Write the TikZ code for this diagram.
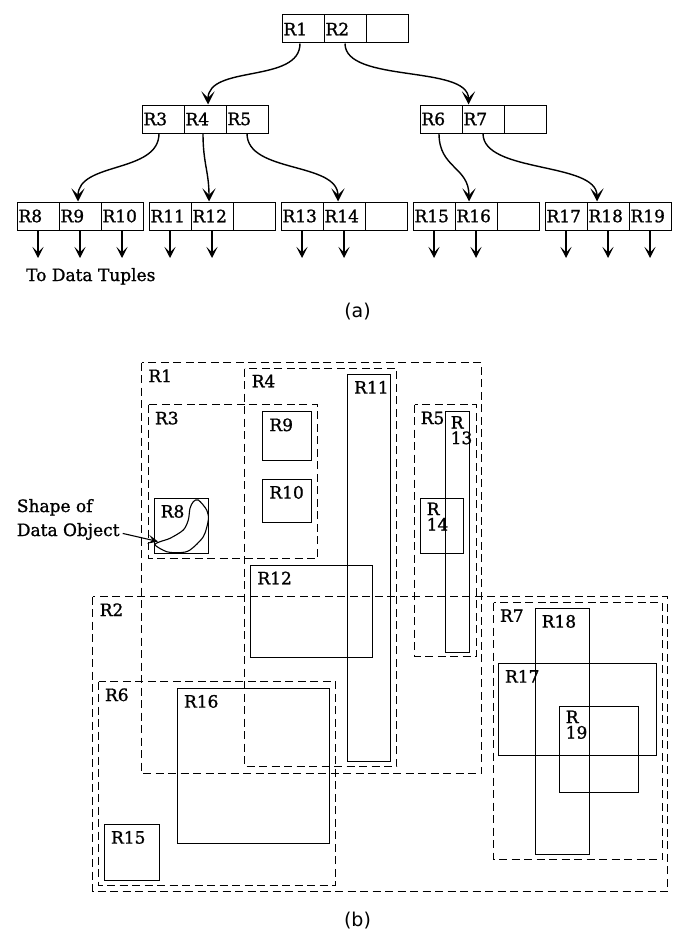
\documentclass[tikz,border=0pt]{standalone}
\usepackage{fontspec}
\setmainfont{DejaVu Serif}[FakeBold=1.2]
\newfontfamily\capfont{DejaVu Sans}
\usetikzlibrary{arrows.meta}

\begin{document}
\begin{tikzpicture}[x=1pt,y=-1pt,font=\fontsize{17}{14}\selectfont,
    cell/.style={draw,line width=1pt,anchor=north west,minimum width=42pt,minimum height=28pt,inner sep=0pt,text width=39pt,align=left},
    link/.style={line width=1.4pt,-{Stealth[length=13pt,width=13pt,inset=6.5pt]}},
    down/.style={line width=1.2pt,-{Stealth[length=11pt,width=11pt,inset=5.5pt]}},
    dregion/.style={line width=1.4pt,dash pattern=on 8pt off 4.5pt},
    leaf/.style={line width=1.1pt},
    lbl/.style={anchor=north west,inner sep=0pt,align=left},
    caption/.style={font=\capfont\fontsize{19}{22}\selectfont}]

        \useasboundingbox (0,0) rectangle (700,934);

        % (a) the tree: root
        \node[cell] (c1) at (281.5,14.5) {R1};
        \node[cell] (c2) at (323.5,14.5) {R2};
        \node[cell] (e1) at (365.5,14.5) {};

        % second level
        \node[cell] (c3) at (141.5,104.5) {R3};
        \node[cell] (c4) at (183.5,104.5) {R4};
        \node[cell] (c5) at (225.5,104.5) {R5};
        \node[cell] (c6) at (419.5,104.5) {R6};
        \node[cell] (c7) at (461.5,104.5) {R7};
        \node[cell] (e2) at (503.5,104.5) {};

        % leaf level
        \node[cell] (c8) at (16.5,201.5) {R8};
        \node[cell] (c9) at (58.5,201.5) {R9};
        \node[cell] (c10) at (100.5,201.5) {R10};
        \node[cell] (c11) at (148.5,201.5) {R11};
        \node[cell] (c12) at (190.5,201.5) {R12};
        \node[cell] (e3) at (232.5,201.5) {};
        \node[cell] (c13) at (280.5,201.5) {R13};
        \node[cell] (c14) at (322.5,201.5) {R14};
        \node[cell] (e4) at (364.5,201.5) {};
        \node[cell] (c15) at (412.5,201.5) {R15};
        \node[cell] (c16) at (454.5,201.5) {R16};
        \node[cell] (e5) at (496.5,201.5) {};
        \node[cell] (c17) at (544.5,201.5) {R17};
        \node[cell] (c18) at (586.5,201.5) {R18};
        \node[cell] (c19) at (628.5,201.5) {R19};

        % Pointers to children
        \draw[link] ([xshift=-3pt]c1.south) .. controls +(0,40) and +(0,-40) .. ([xshift=3pt]c4.north);
        \draw[link] (c2.south) .. controls +(0,40) and +(0,-40) .. ([xshift=7pt]c7.north west);
        \draw[link] ([xshift=-4pt]c3.south) .. controls +(0,40) and +(0,-40) .. ([xshift=-2pt]c9.north);
        \draw[link] ([xshift=-2pt]c4.south) .. controls +(0,30) and +(0,-30) .. ([xshift=-3pt]c12.north);
        \draw[link] (c5.south) .. controls +(0,40) and +(0,-40) .. ([xshift=-6pt]c14.north);
        \draw[link] ([xshift=-2pt]c6.south) .. controls +(0,35) and +(0,-35) .. ([xshift=-7pt]c16.north);
        \draw[link] (c7.south) .. controls +(0,40) and +(0,-40) .. ([xshift=-11pt]c18.north);

        % Pointers to the data
        \foreach \n in {c8,c9,c10,c11,c12,c13,c14,c15,c16,c17,c18,c19}
            \draw[down] (\n.south) -- ++(0,27.5);
        \node[anchor=base west,inner sep=0pt] (tuples) at (26,281) {To Data Tuples};

        \node[caption] (capa) at (357.5,312) {(a)};

        % (b) the regions: dashed are index nodes
        \draw[dregion] (141.5,362.5) rectangle (481.5,773.5);  % R1
        \draw[dregion] (92.5,596.5) rectangle (667.5,891.5);   % R2
        \draw[dregion] (148.5,404.5) rectangle (317.5,558.5);  % R3
        \draw[dregion] (244.5,368.5) rectangle (396.5,766.5);  % R4
        \draw[dregion] (414.5,404.5) rectangle (476.5,656.5);  % R5
        \draw[dregion] (98.5,681.5) rectangle (335.5,885.5);   % R6
        \draw[dregion] (493.5,602.5) rectangle (662.5,859.5);  % R7

        % solid are the leaf entries
        \draw[leaf] (154.5,498.5) rectangle (208.5,553.5);     % R8
        \draw[leaf] (262.5,411.5) rectangle (311.5,460.5);     % R9
        \draw[leaf] (262.5,479.5) rectangle (311.5,522.5);     % R10
        \draw[leaf] (347.5,374.5) rectangle (390.5,761.5);     % R11
        \draw[leaf] (250.5,565.5) rectangle (372.5,657.5);     % R12
        \draw[leaf] (445.5,411.5) rectangle (469.5,652.5);     % R13
        \draw[leaf] (420.5,498.5) rectangle (463.5,553.5);     % R14
        \draw[leaf] (104.5,824.5) rectangle (159.5,880.5);     % R15
        \draw[leaf] (177.5,688.5) rectangle (329.5,843.5);     % R16
        \draw[leaf] (498.5,663.5) rectangle (656.5,755.5);     % R17
        \draw[leaf] (535.5,608.5) rectangle (589.5,854.5);     % R18
        \draw[leaf] (559.5,706.5) rectangle (638.5,792.5);     % R19

        % Region names
        \node[lbl] (n1) at (148.2,369.2) {R1};
        \node[lbl] (n2) at (99.5,603.2) {R2};
        \node[lbl] (n3) at (154.8,411.5) {R3};
        \node[lbl] (n4) at (251.5,374.5) {R4};
        \node[lbl] (n5) at (420.5,411.5) {R5};
        \node[lbl] (n6) at (104.8,688.2) {R6};
        \node[lbl] (n7) at (499.8,609.2) {R7};
        \node[lbl] (n8) at (160.5,504.8) {R8};
        \node[lbl] (n9) at (269.2,418.2) {R9};
        \node[lbl] (n10) at (269.2,485.8) {R10};
        \node[lbl] (n11) at (354,380.8) {R11};
        \node[lbl] (n12) at (257.2,571.5) {R12};
        \node[lbl] (n13) at (450.5,416) {R\\[1.5pt]13};
        \node[lbl] (n14) at (426.5,502.5) {R\\[1.5pt]14};
        \node[lbl] (n15) at (110.8,830.8) {R15};
        \node[lbl] (n16) at (183.8,694.8) {R16};
        \node[lbl] (n17) at (504.8,669.8) {R17};
        \node[lbl] (n18) at (541.5,614.8) {R18};
        \node[lbl] (n19) at (565.5,710.5) {R\\[1.5pt]19};

        % The data object inside R8
        \draw[line width=1.1pt] plot[smooth cycle] coordinates {(198.3,500) (206.7,510) (208.3,520) (203.3,536.7) (190,550) (180,552.7) (166.7,551.7) (155,545) (160,541.7) (170,538.3) (183.3,530) (188.3,520) (190,508.3) (193.3,501.7)};
        \coordinate (blob) at (158,541.5);
        \node[anchor=base west,inner sep=0pt] (shp1) at (16.7,512) {Shape of};
        \node[anchor=base west,inner sep=0pt] (shp2) at (16.7,536) {Data Object};
        \draw[line width=1.1pt,-{Stealth[length=10pt,width=9pt,inset=4.5pt]}] ([xshift=3pt,yshift=-2pt]shp2.east) -- (blob);

        \node[caption] (capb) at (357.5,921) {(b)};
    \end{tikzpicture}
\end{document}
